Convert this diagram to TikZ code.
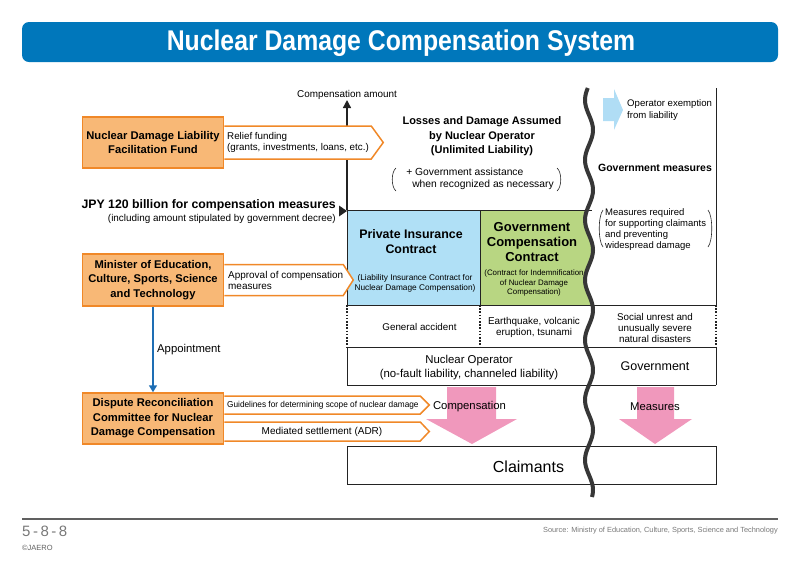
\documentclass[tikz,border=0pt]{standalone}
\usepackage{graphicx}
\usepackage{fontspec}
\setmainfont{Liberation Sans}
\usetikzlibrary{arrows.meta,calc}
\definecolor{titleblue}{RGB}{0,119,187}
\definecolor{orfill}{RGB}{248,184,118}
\definecolor{orline}{RGB}{240,136,40}
\definecolor{pblue}{RGB}{176,224,246}
\definecolor{pgreen}{RGB}{184,214,130}
\definecolor{ltblue}{RGB}{176,221,245}
\definecolor{pinkarr}{RGB}{240,152,188}
\definecolor{appblue}{RGB}{30,110,180}
\definecolor{wavecol}{RGB}{55,55,55}
\definecolor{linecol}{RGB}{35,35,35}
\definecolor{footgray}{RGB}{120,120,120}
\tikzset{
  orangebox/.style={draw=orline, fill=orfill, line width=1.5pt, minimum width=141pt, minimum height=51pt,
    align=center, inner sep=0pt, font=\bfseries\fontsize{11.2}{14.8}\selectfont},
  orarrow/.style={draw=orline, fill=white, line width=1.5pt, line join=miter},
  tline/.style={draw=linecol, line width=1pt},
  dotline/.style={draw=linecol, line width=1.3pt, dash pattern=on 1.6pt off 1.6pt},
  txt/.style={inner sep=0pt, align=center, font=\fontsize{9.8}{11.5}\selectfont},
  btxt/.style={inner sep=0pt, align=center, font=\bfseries\fontsize{11}{14.5}\selectfont},
  stxt/.style={inner sep=0pt, align=center, font=\fontsize{8.3}{9.5}\selectfont},
  paren/.style={draw=linecol, line width=0.6pt},
}
\begin{document}
\begin{tikzpicture}[x=1pt,y=-1pt]
\useasboundingbox (0,0) rectangle (800,566);
% title
\fill[titleblue, rounded corners=7pt] (22,22) rectangle (778,62);
\node[text=white, inner sep=0pt, font=\bfseries\fontsize{28.5}{28.5}\selectfont] (title) at (401,43)
  {\scalebox{0.87}[1]{Nuclear Damage Compensation System}};

% coloured contract boxes
\node[fill=pblue, draw=linecol, line width=1pt, minimum width=133pt, minimum height=95pt, anchor=north west, inner sep=0pt] (private) at (347,210) {};
\fill[pgreen] (480,210) -- plot[domain=210:305,samples=40] ({589+4*sin(6*(\x-100)-90)},\x) -- (480,305) -- cycle;
\draw[tline] (480,210) -- (592,210);
\draw[tline] (480,210) -- (480,305);

% table lines
\draw[tline] (347,305) -- (716,305);
\draw[tline] (347,347) -- (716,347);
\draw[tline] (347,385) -- (716,385);
\draw[tline] (347,347) -- (347,385);
\draw[tline] (716,347) -- (716,385);
\draw[tline] (716,88) -- (716,305);
\draw[dotline] (347,305) -- (347,347);
\draw[dotline] (480,305) -- (480,347);
\draw[dotline] (716,305) -- (716,347);
\node[draw=linecol, line width=1pt, minimum width=369pt, minimum height=38pt, anchor=north west, inner sep=0pt] (claim) at (347,446) {};

% axis
\coordinate (axistop) at (347,100);
\draw[linecol, line width=1.4pt, -{Triangle[length=8pt,width=8pt]}] (private.north west) -- (axistop);
\node[txt, font=\fontsize{9.9}{11}\selectfont] (camount) at (347,95) {Compensation amount};
\coordinate (jpytip) at (347,211);
\fill[linecol] (jpytip) -- ++(-8,-5.5) -- ++(0,11) -- cycle;

% pink arrows
\fill[pinkarr] (447,387) -- (496,387) -- (496,419) -- (517,419) -- (472,444) -- (426,419) -- (447,419) -- cycle;
\fill[pinkarr] (637,387) -- (674,387) -- (674,419) -- (692,419) -- (655,444) -- (619,419) -- (637,419) -- cycle;

% wave
\draw[wavecol, line width=4pt] plot[domain=88:497,samples=160,smooth] ({589+4*sin(6*(\x-100)-90)},\x);

% light blue arrow
\fill[ltblue] (603,98) -- (614,98) -- (614,89) -- (623,110) -- (614,130) -- (614,121) -- (603,121) -- cycle;
\node[txt, anchor=west, align=left, font=\fontsize{9.6}{11.5}\selectfont] (exempt) at (627,110) {Operator exemption\\from liability};

% left boxes
\node[orangebox] (fund) at (153,142.5) {Nuclear Damage Liability\\Facilitation Fund};
\node[orangebox, minimum height=52pt] (minister) at (153,280) {Minister of Education,\\Culture, Sports, Science\\and Technology};
\node[orangebox, font=\bfseries\fontsize{11.2}{14.4}\selectfont] (dispute) at (153,418.5) {Dispute Reconciliation\\Committee for Nuclear\\Damage Compensation};

% orange pentagon arrows
\draw[orarrow] ($(fund.east)+(0,-16.5)$) -- ++(147,0) -- ++(12,16.5) -- ++(-12,16.5) -- ++(-147,0);
\node[txt, anchor=west, align=left] (relief) at (227,142.5) {Relief funding\\(grants, investments, loans, etc.)};
\draw[orarrow] ($(minister.east)+(0,-15.5)$) -- ++(119,0) -- ++(10,15.5) -- ++(-10,15.5) -- ++(-119,0);
\node[txt, anchor=west, align=left, font=\fontsize{9.95}{11}\selectfont] (approval) at (228,280) {Approval of compensation\\measures};
\draw[orarrow] ($(dispute.east)+(0,-22.5)$) -- ++(196,0) -- ++(9,9) -- ++(-9,9) -- ++(-196,0);
\node[txt, anchor=west, font=\fontsize{8.6}{9}\selectfont] (guide) at (227,405.5) {\scalebox{0.96}[1]{Guidelines for determining scope of nuclear damage}};
\draw[orarrow] ($(dispute.east)+(0,3.5)$) -- ++(196,0) -- ++(9,9.5) -- ++(-9,9.5) -- ++(-196,0);
\node[txt, font=\fontsize{10}{11}\selectfont] (adr) at (322,431.5) {Mediated settlement (ADR)};

% appointment
\draw[appblue, line width=1.5pt, -{Triangle[length=7pt,width=8pt]}] (minister.south) -- (dispute.north);
\node[txt, anchor=west, font=\fontsize{11.3}{12}\selectfont] (appoint) at (157,350) {Appointment};

% JPY text
\node[btxt, anchor=east, font=\bfseries\fontsize{12.3}{13}\selectfont] (jpy) at (336,205) {JPY 120 billion for compensation measures};
\node[txt, anchor=east, font=\fontsize{9.9}{11}\selectfont] (jpysub) at (336,219) {(including amount stipulated by government decree)};

% middle top texts
\node[btxt] (losses) at (482,136.5) {Losses and Damage Assumed\\by Nuclear Operator\\(Unlimited Liability)};
\node[txt, align=left, font=\fontsize{10.3}{12}\selectfont] (assist) at (480,179) {+ Government assistance\\\hspace*{6pt}when recognized as necessary};
\draw[paren] (396,168) .. controls (391,172) and (391,187) .. (396,191);
\draw[paren] (557,168) .. controls (562,172) and (562,187) .. (557,191);

% right texts
\node[btxt, font=\bfseries\fontsize{10.5}{12}\selectfont] (govmeas) at (655,168) {Government measures};
\node[txt, anchor=west, align=left, font=\fontsize{9.5}{11}\selectfont] (measreq) at (605,229.5) {Measures required\\for supporting claimants\\and preventing\\widespread damage};
\draw[paren] (603,210) .. controls (598,216) and (598,241) .. (603,247);
\draw[paren] (708,210) .. controls (713,216) and (713,241) .. (708,247);

% contract texts
\node[btxt, font=\bfseries\fontsize{12.4}{15.5}\selectfont] (pitxt) at (411,241.5) {Private Insurance\\Contract};
\node[stxt] (pisub) at (415,283.5) {(Liability Insurance Contract for\\Nuclear Damage Compensation)};
\node[btxt, font=\bfseries\fontsize{13}{15}\selectfont] (gctxt) at (532,242) {Government\\Compensation\\Contract};
\node[stxt, font=\fontsize{7.9}{9.5}\selectfont] (gcsub) at (534,283) {(Contract for Indemnification\\of Nuclear Damage\\Compensation)};

% row texts
\node[txt] (general) at (419.5,327) {General accident};
\node[txt, font=\fontsize{9.9}{11.5}\selectfont] (quake) at (534,327.5) {Earthquake, volcanic\\eruption, tsunami};
\node[txt, font=\fontsize{9.8}{11}\selectfont] (unrest) at (655,328) {Social unrest and\\unusually severe\\natural disasters};
\node[txt, font=\fontsize{11.4}{14}\selectfont] (operator) at (469,367.5) {Nuclear Operator\\(no-fault liability, channeled liability)};
\node[txt, font=\fontsize{12.5}{13}\selectfont] (gov) at (655,366) {Government};
\node[txt, font=\fontsize{11.3}{12}\selectfont] (comp) at (469.5,407) {Compensation};
\node[txt, font=\fontsize{11.3}{12}\selectfont] (meas) at (655,407) {Measures};
\node[txt, font=\fontsize{16}{16}\selectfont] (claimtxt) at (528.5,466.5) {Claimants};

% footer
\draw[footgray!80!black, line width=1.5pt] (22,519) -- (778,519);
\node[anchor=west, inner sep=0pt, text=footgray, font=\fontsize{15}{15}\selectfont] (pageno) at (22,531) {5\,-\,8\,-\,8};
\node[anchor=west, inner sep=0pt, text=footgray!80!black, font=\fontsize{7.5}{8}\selectfont] (jaero) at (22,548) {\textcopyright JAERO};
\node[anchor=east, inner sep=0pt, text=footgray, font=\fontsize{7.4}{8}\selectfont] (source) at (778,531) {Source: Ministry of Education, Culture, Sports, Science and Technology};
\end{tikzpicture}
\end{document}
